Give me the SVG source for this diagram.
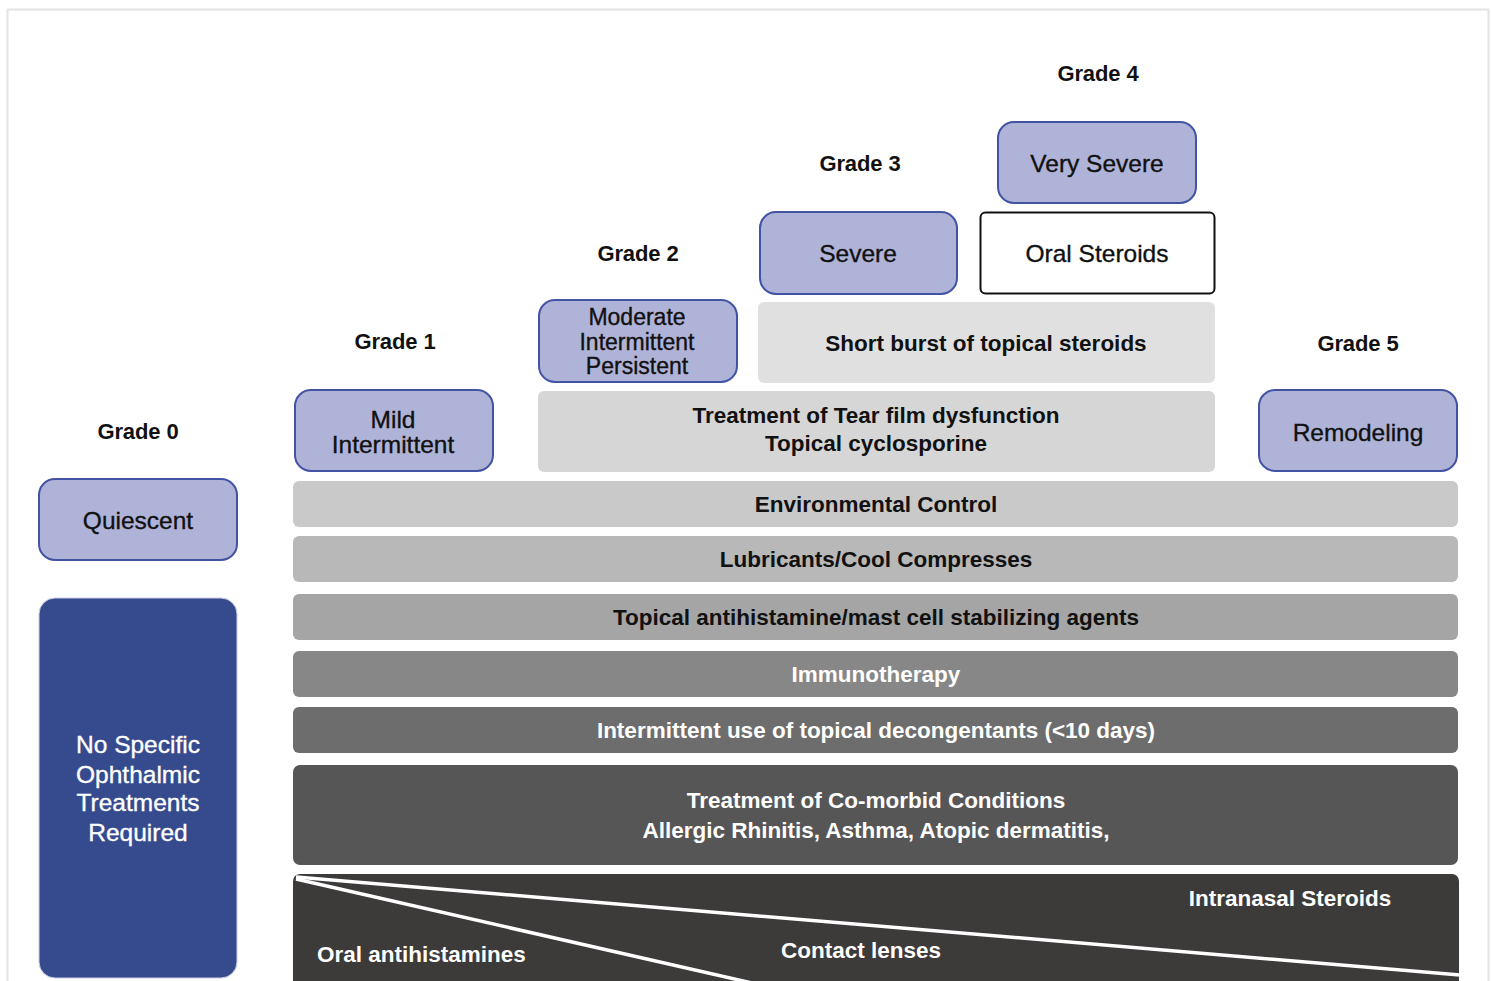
<svg xmlns="http://www.w3.org/2000/svg" width="1491" height="981" viewBox="0 0 1491 981">
<style>
text{font-family:"Liberation Sans",Arial,sans-serif;text-anchor:middle}
.g{font-size:22px;font-weight:bold;fill:#111;letter-spacing:-0.1px}
.sev{fill:#b0b3d8;stroke:#4353a3;stroke-width:2}
.st{font-size:24.5px;fill:#111;stroke:#111;stroke-width:0.35}
.sm{font-size:23px}
.bt{font-size:22.5px;font-weight:bold}
.dk{fill:#111}
.wt{fill:#fff}
.st.wt{stroke:#fff}
</style>
<rect x="7.5" y="9.5" width="1481" height="980" fill="#fff" stroke="#e3e3e3" stroke-width="2"/>
<g id="grade-labels">
<text class="g" x="1098" y="81">Grade 4</text>
<text class="g" x="860" y="171">Grade 3</text>
<text class="g" x="638" y="261">Grade 2</text>
<text class="g" x="395" y="349">Grade 1</text>
<text class="g" x="138" y="439">Grade 0</text>
<text class="g" x="1358" y="351">Grade 5</text>
</g>
<g id="very-severe"><rect class="sev" x="998" y="122" width="198" height="81" rx="16"/><text class="st" x="1097" y="172">Very Severe</text></g>
<g id="severe"><rect class="sev" x="760" y="212" width="197" height="82" rx="16"/><text class="st" x="858" y="262">Severe</text></g>
<g id="oral-steroids"><rect x="980.5" y="212.5" width="234" height="81" rx="5" fill="#fff" stroke="#111" stroke-width="2"/><text class="st" x="1097" y="262">Oral Steroids</text></g>
<g id="moderate"><rect class="sev" x="539" y="300" width="198" height="82" rx="16"/><text class="st sm" x="637" y="325">Moderate</text><text class="st sm" x="637" y="349.5">Intermittent</text><text class="st sm" x="637" y="374">Persistent</text></g>
<g id="short-burst"><rect x="758" y="302" width="457" height="81" rx="6" fill="#e0e0e0"/><text class="bt dk" x="986" y="351">Short burst of topical steroids</text></g>
<g id="mild"><rect class="sev" x="295" y="390" width="198" height="81" rx="16"/><text class="st" x="393" y="428">Mild</text><text class="st" x="393" y="453">Intermittent</text></g>
<g id="tear-film"><rect x="538" y="391" width="677" height="81" rx="6" fill="#d6d6d6"/><text class="bt dk" x="876" y="423">Treatment of Tear film dysfunction</text><text class="bt dk" x="876" y="451">Topical cyclosporine</text></g>
<g id="remodeling"><rect class="sev" x="1259" y="390" width="198" height="81" rx="16"/><text class="st" x="1358" y="441">Remodeling</text></g>
<g id="quiescent"><rect class="sev" x="39" y="479" width="198" height="81" rx="16"/><text class="st" x="138" y="529">Quiescent</text></g>
<g id="no-specific"><rect x="39" y="598" width="198" height="380" rx="16" fill="#364b8e" stroke="#c9cde6" stroke-width="1"/>
<text class="st wt" x="138" y="753">No Specific</text><text class="st wt" x="138" y="783">Ophthalmic</text><text class="st wt" x="138" y="811">Treatments</text><text class="st wt" x="138" y="841">Required</text></g>
<g id="environmental"><rect x="293" y="481" width="1165" height="46" rx="6" fill="#c9c9c9"/><text class="bt dk" x="876" y="512">Environmental Control</text></g>
<g id="lubricants"><rect x="293" y="536" width="1165" height="46" rx="6" fill="#b8b8b8"/><text class="bt dk" x="876" y="567">Lubricants/Cool Compresses</text></g>
<g id="antihistamine"><rect x="293" y="594" width="1165" height="46" rx="6" fill="#a5a5a5"/><text class="bt dk" x="876" y="625">Topical antihistamine/mast cell stabilizing agents</text></g>
<g id="immunotherapy"><rect x="293" y="651" width="1165" height="46" rx="6" fill="#878787"/><text class="bt wt" x="876" y="682">Immunotherapy</text></g>
<g id="decongestants"><rect x="293" y="707" width="1165" height="46" rx="6" fill="#6d6d6d"/><text class="bt wt" x="876" y="738">Intermittent use of topical decongentants (&lt;10 days)</text></g>
<g id="comorbid"><rect x="293" y="765" width="1165" height="100" rx="7" fill="#575657"/><text class="bt wt" x="876" y="808">Treatment of Co-morbid Conditions</text><text class="bt wt" x="876" y="838">Allergic Rhinitis, Asthma, Atopic dermatitis,</text></g>
<g id="systemic"><rect x="293" y="874" width="1166" height="115" rx="7" fill="#3d3a3a"/>
<text class="bt wt" x="1290" y="906">Intranasal Steroids</text>
<text class="bt wt" x="861" y="958">Contact lenses</text>
<text class="bt wt" x="317" y="962" style="text-anchor:start">Oral antihistamines</text></g>
<g id="connectors" stroke="#fff" stroke-width="3.5" fill="none">
<path d="M296 877 L1460 975"/>
<path d="M296 879 L752 983"/>
</g>
</svg>
